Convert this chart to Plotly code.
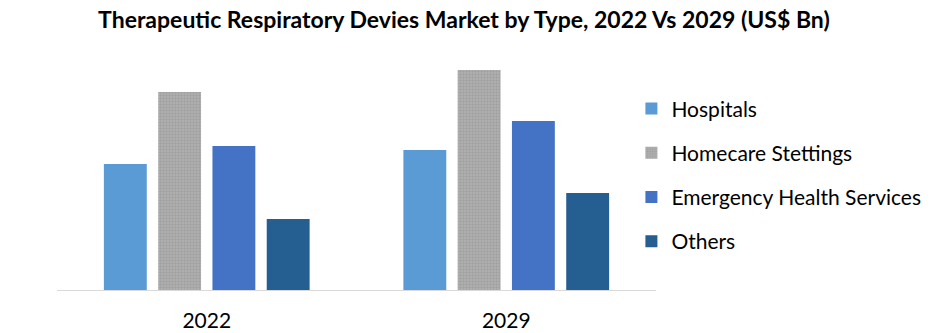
import plotly.graph_objects as go

years = ["2022", "2029"]
series_names = ["Hospitals", "Homecare Stettings", "Emergency Health Services", "Others"]
hospitals = [12.6, 14.0]
homecare = [19.8, 22.0]
emergency = [14.4, 16.9]
others = [7.1, 9.7]

values = [hospitals, homecare, emergency, others]
colors = ["#5b9bd5", "#a5a5a5", "#4472c4", "#255e91"]

fig = go.Figure()
for i, (name, vals, col) in enumerate(zip(series_names, values, colors)):
    marker = dict(color=col, line=dict(width=0))
    if i == 1:
        marker["pattern"] = dict(shape=".", fgcolor="#8e8e8e", bgcolor="#b2b2b2",
                                 size=3, solidity=0.5)
    fig.add_trace(go.Bar(x=years, y=vals, name=name, marker=marker,
                         legendgroup=f"g{i}"))

fig.update_layout(
    width=941, height=333,
    margin=dict(l=57, r=285, t=40, b=43, autoexpand=False),
    paper_bgcolor="white", plot_bgcolor="white",
    barmode="group", bargap=0.275, bargroupgap=0.21,
    title=dict(text="<b>Therapeutic Respiratory Devies Market by Type, 2022 Vs 2029 (US$ Bn)</b>",
               x=0.493, xanchor="center", y=0.94, yanchor="middle",
               xref="container", yref="container",
               font=dict(family="Lato", size=23, color="black")),
    font=dict(family="Lato", size=21, color="black"),
    showlegend=True,
    legend=dict(xref="container", yref="container", x=0.671, xanchor="left",
                y=0.735, yanchor="top", tracegroupgap=14, maxheight=1,
                font=dict(family="Lato", size=21, color="black"),
                bgcolor="rgba(0,0,0,0)"),
)
fig.update_xaxes(showline=True, linecolor="#d9d9d9", linewidth=1, ticks="",
                 showgrid=False, ticklabelstandoff=12,
                 tickfont=dict(family="Lato", size=21, color="black"))
fig.update_yaxes(visible=False, range=[0, 25], showgrid=False, zeroline=False)

fig.write_html("out.html")
